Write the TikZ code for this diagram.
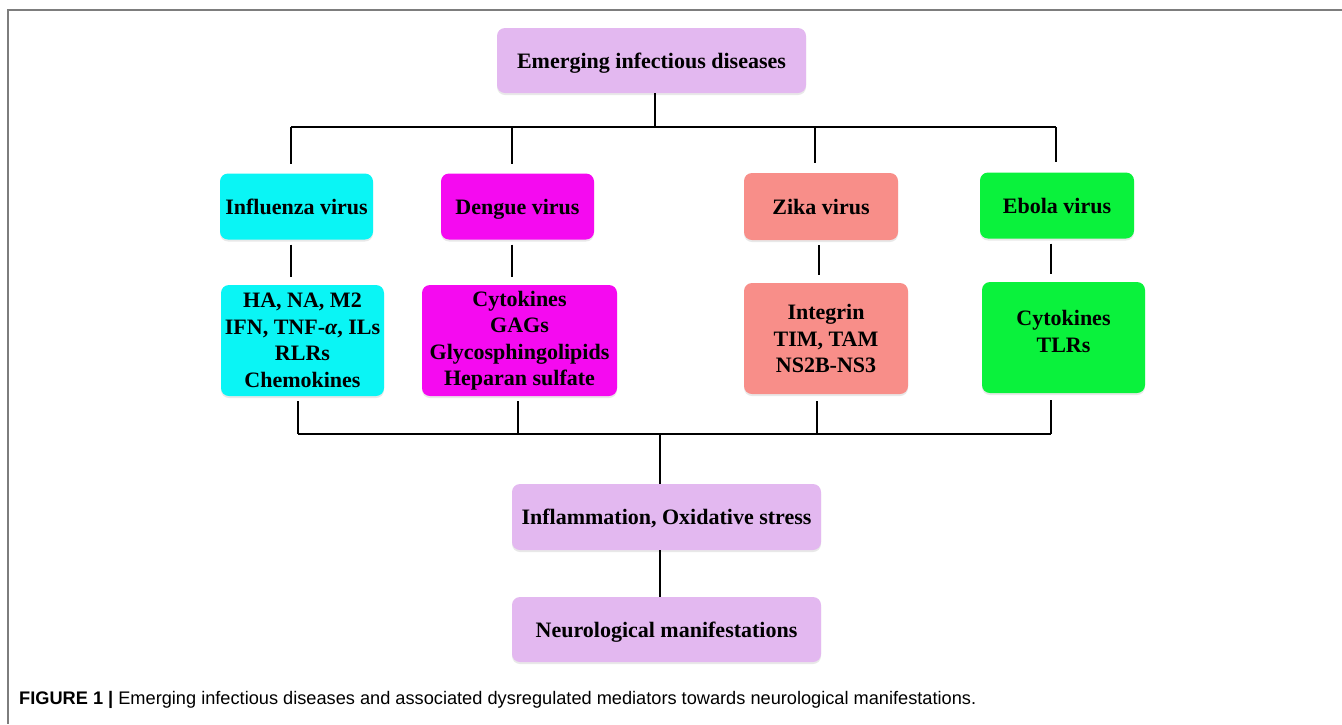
\documentclass[tikz,border=0pt]{standalone}
\usepackage{fontspec}
\setmainfont{Liberation Serif}
\newfontfamily\capfont{Liberation Sans}
\usetikzlibrary{shadows}
\definecolor{lav}{RGB}{227,184,240}
\definecolor{cyanb}{RGB}{10,245,245}
\definecolor{magb}{RGB}{245,10,240}
\definecolor{salb}{RGB}{248,142,137}
\definecolor{grnb}{RGB}{10,242,60}
\definecolor{framec}{RGB}{125,125,125}
\begin{document}
\begin{tikzpicture}[x=1pt,y=-1pt,
  box/.style={rounded corners=8pt, inner sep=0pt, align=center,
    font=\fontsize{22}{26.5}\selectfont\bfseries,
    drop shadow={opacity=0.18, shadow xshift=0pt, shadow yshift=-2pt}},
  oneline/.style={text height=15.5pt, text depth=0.5pt},
  link/.style={line width=1.5pt, black}]
\useasboundingbox (0,0) rectangle (1342,724);
\draw[framec, line width=1.5pt] (1342,10) -- (8,10) -- (8,724);

% boxes
\node[box, oneline, fill=lav, minimum width=309pt, minimum height=65pt] (top) at (651.5,60.5) {Emerging infectious diseases};
\node[box, oneline, fill=cyanb, minimum width=153pt, minimum height=66pt] (flu) at (296.5,206.5) {Influenza virus};
\node[box, oneline, fill=magb, minimum width=153pt, minimum height=66pt] (den) at (517.5,206.5) {Dengue virus};
\node[box, oneline, fill=salb, minimum width=154pt, minimum height=67pt] (zik) at (821,206.5) {Zika virus};
\node[box, oneline, fill=grnb, minimum width=154pt, minimum height=66pt] (ebo) at (1057,205.5) {Ebola virus};
\node[box, fill=cyanb, minimum width=163pt, minimum height=111pt] (flum) at (302.5,340.5) {HA, NA, M2\\IFN, TNF-\textit{α}, ILs\\RLRs\\Chemokines};
\node[box, fill=magb, minimum width=195pt, minimum height=111pt] (denm) at (519.5,340.5) {Cytokines\\GAGs\\Glycosphingolipids\\Heparan sulfate};
\node[box, fill=salb, minimum width=164pt, minimum height=111pt] (zikm) at (826,338.5) {Integrin\\TIM, TAM\\NS2B-NS3};
\node[box, fill=grnb, minimum width=163pt, minimum height=111pt, text depth=12pt] (ebom) at (1063.5,337.5) {Cytokines\\TLRs};
\node[box, oneline, fill=lav, minimum width=309pt, minimum height=66pt] (infl) at (666.5,517) {Inflammation, Oxidative stress};
\node[box, oneline, fill=lav, minimum width=309pt, minimum height=65pt] (neuro) at (666.5,629.5) {Neurological manifestations};

% top bus
\coordinate (tM) at (655,127);
\coordinate (tA) at (291,127);
\coordinate (tB) at (512,127);
\coordinate (tC) at (815,127);
\coordinate (tD) at (1056,127);
\draw[link] (top.south -| tM) -- (tM);
\draw[link] (tA) -- (tD);
\draw[link, shorten >=9pt] (tA) -- (tA |- flu.north);
\draw[link, shorten >=9pt] (tB) -- (tB |- den.north);
\draw[link, shorten >=10pt] (tC) -- (tC |- zik.north);
\draw[link, shorten >=10pt] (tD) -- (tD |- ebo.north);

% middle stems
\coordinate (mA) at (291,260);
\coordinate (mB) at (512,260);
\coordinate (mC) at (819,260);
\coordinate (mD) at (1051,260);
\draw[link, shorten <=5pt, shorten >=8pt] (flu.south -| mA) -- (flum.north -| mA);
\draw[link, shorten <=5pt, shorten >=8pt] (den.south -| mB) -- (denm.north -| mB);
\draw[link, shorten <=5pt, shorten >=8pt] (zik.south -| mC) -- (zikm.north -| mC);
\draw[link, shorten <=5pt, shorten >=8pt] (ebo.south -| mD) -- (ebom.north -| mD);

% bottom bus
\coordinate (bA) at (298,434);
\coordinate (bB) at (518,434);
\coordinate (bC) at (817,434);
\coordinate (bD) at (1051,434);
\coordinate (bM) at (660,434);
\draw[link] (bA) -- (bD);
\draw[link, shorten <=5pt] (flum.south -| bA) -- (bA);
\draw[link, shorten <=5pt] (denm.south -| bB) -- (bB);
\draw[link, shorten <=7pt] (zikm.south -| bC) -- (bC);
\draw[link, shorten <=7pt] (ebom.south -| bD) -- (bD);
\draw[link] (bM) -- (infl.north -| bM);
\draw[link] (infl.south -| bM) -- (neuro.north -| bM);

% caption
\node[anchor=base west, inner sep=0pt, font=\capfont\fontsize{18.2}{22}\selectfont] (cap) at (19,704)
  {\textbf{FIGURE 1 |} Emerging infectious diseases and associated dysregulated mediators towards neurological manifestations.};
\end{tikzpicture}
\end{document}
